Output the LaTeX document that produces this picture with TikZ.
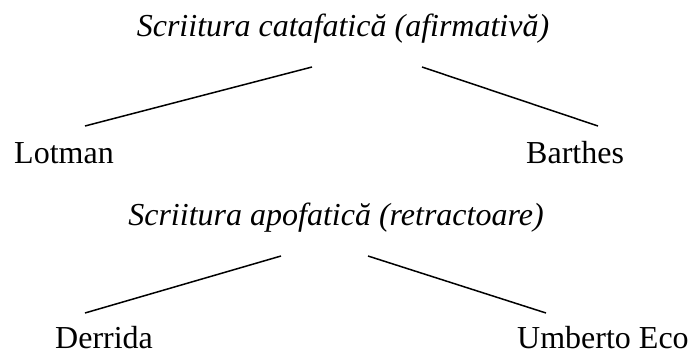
\documentclass[tikz,border=0pt]{standalone}
\usepackage{fontspec}
\setmainfont{Liberation Serif}
\begin{document}
\begin{tikzpicture}[x=1pt,y=-1pt,
  lbl/.style={anchor=base west,inner sep=0pt,font=\fontsize{32}{38}\selectfont},
  ttl/.style={anchor=base,inner sep=0pt,font=\fontsize{32}{38}\selectfont\itshape},
  conn/.style={line width=1.5pt}]
\useasboundingbox (0,0) rectangle (697,356);
% level 1
\node[ttl] (t1) at (343,36) {Scriitura catafatică (afirmativă)};
\node[lbl] (lotman) at (14,163) {Lotman};
\node[lbl] (barthes) at (526,163) {Barthes};
\coordinate (t1l) at (312,67);
\coordinate (t1r) at (422,67);
\coordinate (lotmanTop) at (85,126);
\coordinate (barthesTop) at (598,126);
\draw[conn] (t1l) -- (lotmanTop);
\draw[conn] (t1r) -- (barthesTop);
% level 2
\node[ttl] (t2) at (336,225) {Scriitura apofatică (retractoare)};
\node[lbl] (derrida) at (55,348) {Derrida};
\node[lbl] (eco) at (517,348) {Umberto Eco};
\coordinate (t2l) at (281,256);
\coordinate (t2r) at (368,256);
\coordinate (derridaTop) at (85,313);
\coordinate (ecoTop) at (546,313);
\draw[conn] (t2l) -- (derridaTop);
\draw[conn] (t2r) -- (ecoTop);
\end{tikzpicture}
\end{document}
